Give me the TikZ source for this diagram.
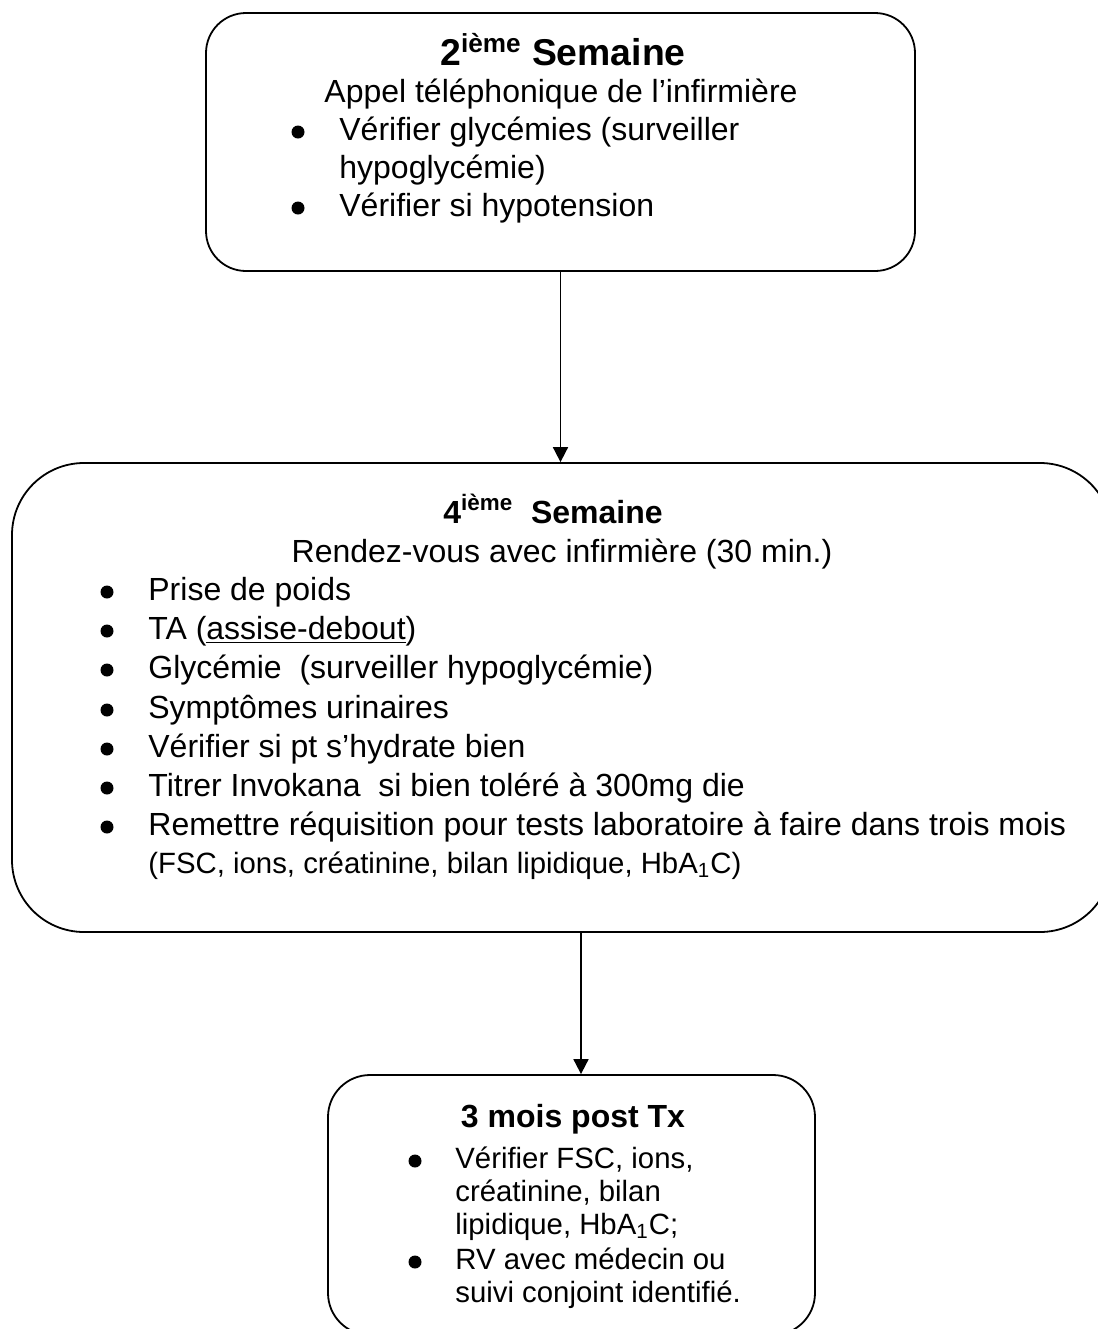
\documentclass[tikz,border=0pt]{standalone}
\usepackage{fontspec}
\setmainfont{Liberation Sans}
\usetikzlibrary{arrows.meta}

\begin{document}
\begin{tikzpicture}[x=0.5pt, y=-0.5pt,
    boite/.style={draw, line width=0.9pt, rounded corners=#1, inner sep=0pt},
    texte/.style={inner sep=0pt, font=\fontsize{16}{19}\selectfont},
    petit/.style={inner sep=0pt, font=\fontsize{14.67}{17}\selectfont},
    titre/.style={inner sep=0pt, font=\fontsize{16}{19}\selectfont\bfseries},
    grandtitre/.style={inner sep=0pt, font=\fontsize{18.67}{22}\selectfont\bfseries},
    puce/.style={circle, fill, inner sep=0pt, minimum size=6.5pt},
    fleche/.style={-{Triangle[length=7.5pt,width=7.5pt]}, line width=0.9pt}]
      \useasboundingbox (0,0) rectangle (1098,1329);
      % boites
      \node[boite=20pt, minimum width=354.5pt, minimum height=129pt] (sem2) at (560.5,142) {};
      \node[boite=36pt, minimum width=550pt, minimum height=234.5pt] (sem4) at (562,697.5) {};
      \node[boite=21pt, minimum width=243.5pt, minimum height=130pt] (mois3) at (571.5,1205) {};
      % fleches
      \draw[fleche] (sem2.south) -- (sem2.south |- sem4.north);
      \draw[fleche] ([xshift=9.5pt]sem4.south) -- ([xshift=9.5pt]sem4.south |- mois3.north);
      % 2ieme semaine
      \node[grandtitre, anchor=base] (t2) at (563,65) {2\textsuperscript{ième} Semaine};
      \node[texte, anchor=base] (appel) at (561,102) {Appel téléphonique de l’infirmière};
      \node[puce] (p21) at (298,132) {};
      \node[texte, anchor=base west] (i21) at (339,140) {Vérifier glycémies (surveiller};
      \node[texte, anchor=base west] (i21b) at (339,178) {hypoglycémie)};
      \node[puce] (p22) at (298,208) {};
      \node[texte, anchor=base west] (i22) at (339,216) {Vérifier si hypotension};
      % 4ieme semaine
      \node[titre, anchor=base] (t4) at (553,523) {4\textsuperscript{ième}\ \ Semaine};
      \node[texte, anchor=base] (rdv) at (562,562) {Rendez-vous avec infirmière (30 min.)};
      \node[puce] (p41) at (107,592) {};
      \node[texte, anchor=base west] (i41) at (148,600) {Prise de poids};
      \node[puce] (p42) at (107,631) {};
      \node[texte, anchor=base west] (i42) at (148,639) {TA (\underline{assise-debout})};
      \node[puce] (p43) at (107,670) {};
      \node[texte, anchor=base west] (i43) at (148,678) {Glycémie\ \ (surveiller hypoglycémie)};
      \node[puce] (p44) at (107,710) {};
      \node[texte, anchor=base west] (i44) at (148,718) {Symptômes urinaires};
      \node[puce] (p45) at (107,749) {};
      \node[texte, anchor=base west] (i45) at (148,757) {Vérifier si pt s’hydrate bien};
      \node[puce] (p46) at (107,788) {};
      \node[texte, anchor=base west] (i46) at (148,796) {Titrer Invokana\ \ si bien toléré à 300mg die};
      \node[puce] (p47) at (107,827) {};
      \node[texte, anchor=base west] (i47) at (148,835) {Remettre réquisition pour tests laboratoire à faire dans trois mois};
      \node[petit, anchor=base west] (i47b) at (148,873) {(FSC, ions, créatinine, bilan lipidique, HbA\textsubscript{1}C)};
      % 3 mois
      \node[titre, anchor=base] (t3) at (573,1127) {3 mois post Tx};
      \node[puce] (p31) at (415,1161) {};
      \node[petit, anchor=base west] (i31) at (455,1168) {Vérifier FSC, ions,};
      \node[petit, anchor=base west] (i31b) at (455,1201) {créatinine, bilan};
      \node[petit, anchor=base west] (i31c) at (455,1234) {lipidique, HbA\textsubscript{1}C;};
      \node[puce] (p32) at (415,1262) {};
      \node[petit, anchor=base west] (i32) at (455,1269) {RV avec médecin ou};
      \node[petit, anchor=base west] (i32b) at (455,1302) {suivi conjoint identifié.};
    \end{tikzpicture}
\end{document}
